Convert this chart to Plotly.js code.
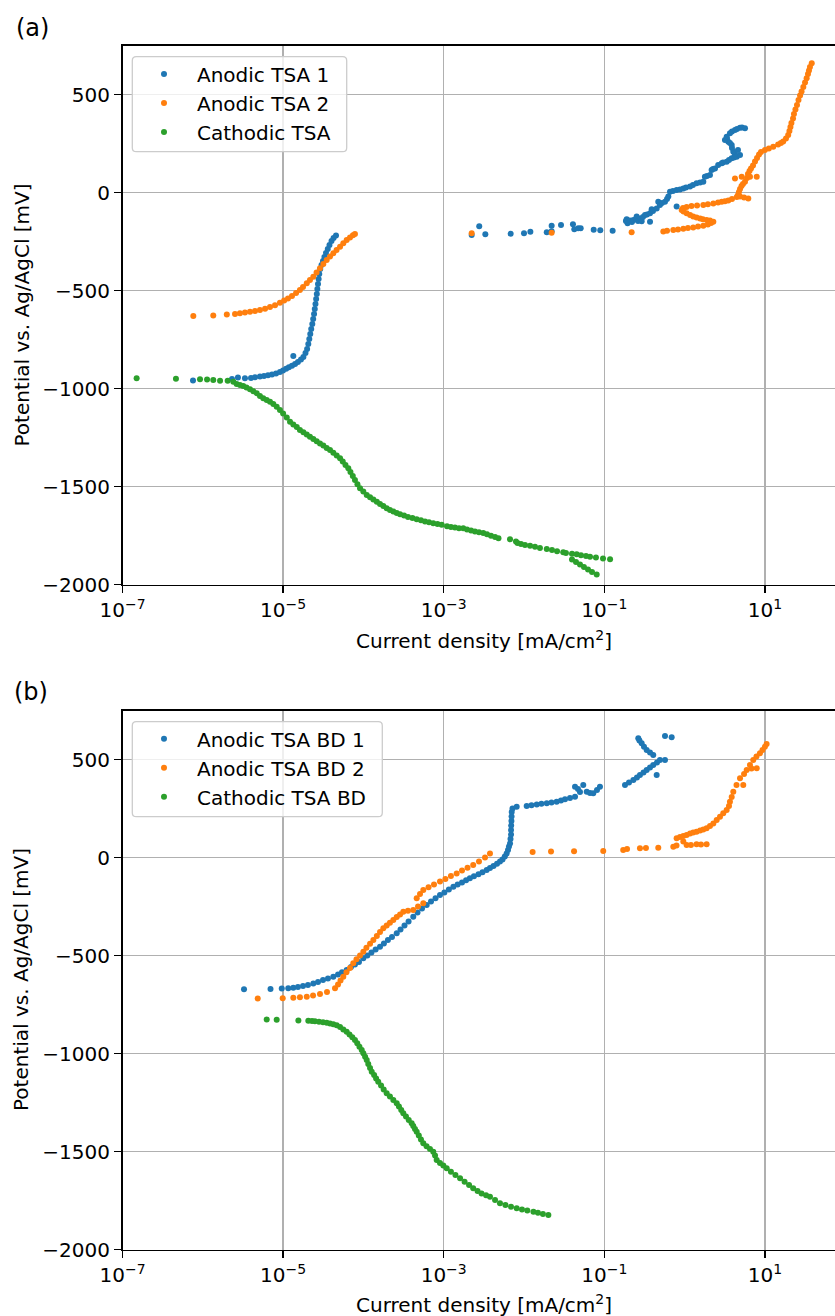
<!DOCTYPE html>
<html><head><meta charset="utf-8">
<script src="https://cdn.plot.ly/plotly-3.0.1.min.js"></script>
<style>html,body{margin:0;padding:0;background:#fff}</style>
</head><body><div id="chart" style="width:835px;height:1316px"></div>
<script>
// ---- Panel (a) ----
const tsa1Current = [7.55e-7, 2.31e-6, 2.74e-6, 3.35e-6, 3.98e-6, 4.47e-6, 5.15e-6, 5.78e-6, 6.49e-6, 7.28e-6, 8.17e-6, 9.14e-6, 9.98e-6, 1.09e-5, 1.18e-5, 1.29e-5, 1.41e-5, 1.53e-5, 1.67e-5, 1.79e-5, 1.90e-5, 1.99e-5, 2.06e-5, 2.12e-5, 2.18e-5, 2.24e-5, 2.31e-5, 2.37e-5, 2.43e-5, 2.48e-5, 2.53e-5, 2.58e-5, 2.63e-5, 2.67e-5, 2.72e-5, 2.77e-5, 2.82e-5, 2.90e-5, 3.01e-5, 3.14e-5, 3.27e-5, 3.42e-5, 3.60e-5, 3.78e-5, 4.01e-5, 4.25e-5, 4.56e-5, 1.34e-5,
  2.23e-3, 2.77e-3, 3.30e-3, 6.82e-3, 1.00e-2, 1.20e-2, 1.92e-2, 2.21e-2, 2.21e-2, 2.89e-2, 4.07e-2, 4.23e-2, 4.74e-2, 5.08e-2, 7.38e-2, 8.91e-2, 1.27e-1, 1.90e-1, 1.95e-1, 1.86e-1, 2.09e-1, 2.21e-1, 2.30e-1, 2.48e-1, 2.53e-1, 2.63e-1, 2.78e-1, 2.92e-1, 3.03e-1, 3.21e-1, 3.40e-1, 3.71e-1, 3.71e-1, 3.89e-1, 4.04e-1, 4.49e-1, 4.70e-1, 4.93e-1, 5.22e-1, 5.70e-1, 6.04e-1, 6.27e-1, 6.58e-1, 7.16e-1, 7.96e-1, 7.96e-1, 8.77e-1, 9.64e-1, 1.04, 1.17, 1.27, 1.41, 1.56, 1.71, 1.79, 1.90, 2.07, 2.17, 2.26, 2.39, 2.62, 2.90, 3.01, 3.34, 3.57, 3.86, 4.12, 4.46, 4.90, 4.24, 4.04, 4.62, 3.89, 3.86, 3.67, 3.50, 3.37, 3.18, 3.34, 3.67, 3.89, 4.24, 4.49, 4.90, 5.19, 5.65];
const tsa1Potential = [-958, -950, -943, -947, -945, -942, -938, -935, -932, -928, -922, -915, -907, -898, -890, -883, -874, -864, -851, -838, -818, -797, -772, -746, -721, -695, -670, -644, -619, -593, -568, -542, -517, -491, -466, -440, -415, -389, -369, -348, -328, -308, -287, -267, -246, -231, -218, -833,
  -216, -171, -212, -209, -207, -199, -202, -168, -197, -165, -161, -187, -182, -182, -189, -192, -194, -136, -156, -144, -142, -149, -139, -134, -122, -144, -131, -146, -124, -114, -111, -105, -148, -85, -93, -80, -46, -63, -53, -46, -32, -20, 5, 9, 14, -71, 16, 22, 27, 31, 39, 48, 52, 56, 82, 85, 90, 116, 121, 124, 141, 150, 154, 158, 167, 176, 180, 184, 192, 197, 209, 218, 228, 243, 254, 260, 277, 269, 286, 303, 312, 320, 325, 332, 333, 329];

const tsa2Current = [7.62e-7, 1.35e-6, 1.99e-6, 2.52e-6, 2.90e-6, 3.35e-6, 3.87e-6, 4.47e-6, 5.15e-6, 5.96e-6, 6.87e-6, 7.93e-6, 9.14e-6, 1.03e-5, 1.15e-5, 1.29e-5, 1.45e-5, 1.62e-5, 1.77e-5, 1.97e-5, 2.16e-5, 2.38e-5, 2.61e-5, 2.88e-5, 3.17e-5, 3.49e-5, 3.84e-5, 4.22e-5, 4.63e-5, 5.12e-5, 5.62e-5, 6.19e-5, 6.81e-5, 7.41e-5, 7.85e-5,
  2.23e-3, 2.21e-2, 2.19e-1, 5.43e-1, 6.04e-1, 7.23e-1, 8.28e-1, 9.64e-1, 1.10, 1.28, 1.47, 1.71, 1.95, 2.13, 2.28, 2.07, 1.88, 1.69, 1.56, 1.41, 1.28, 1.17, 1.06, 9.68e-1, 9.20e-1, 9.55e-1, 1.06, 1.22, 1.43, 1.71, 1.95, 2.28, 2.61, 2.90, 3.18, 3.50, 3.89, 4.46, 4.90, 5.50, 6.21, 4.62, 4.75, 4.90, 5.11, 5.33, 5.65, 4.24, 5.14, 5.98, 6.52, 7.91, 6.15, 6.43, 6.71, 7.11, 7.53, 7.98, 8.45, 8.94, 10.0, 11.2, 12.7, 14.6, 15.8, 16.9, 18.3, 19.5, 20.2, 20.8, 21.4, 22.4, 23.0, 24.0, 25.1, 26.2, 27.4, 28.6, 30.1, 31.6, 33.1, 34.4, 35.4, 36.4, 38.3];
const tsa2Potential = [-629, -626, -622, -619, -615, -611, -607, -603, -598, -592, -583, -574, -561, -550, -540, -527, -512, -496, -481, -462, -445, -429, -407, -386, -364, -343, -326, -309, -292, -276, -258, -241, -229, -217, -211,
  -207, -204, -202, -198, -194, -190, -188, -184, -180, -177, -172, -168, -162, -155, -148, -142, -139, -136, -131, -127, -122, -114, -105, -96, -88, -78, -73, -68, -65, -63, -59, -55, -50, -46, -43, -40, -32, -22, -20, -24, -29, -12, 4, 19, 34, 44, 56, 73, 82, 75, 82, 82, 95, 111, 123, 139, 159, 177, 195, 208, 218, 226, 234, 246, 254, 261, 277, 294, 315, 335, 356, 379, 402, 424, 447, 473, 496, 516, 539, 562, 584, 606, 623, 641, 660];

const cathCurrent = [1.50e-7, 4.63e-7, 9.23e-7, 1.13e-6, 1.35e-6, 1.64e-6, 2.04e-6, 2.40e-6, 2.64e-6, 2.90e-6, 3.19e-6, 3.50e-6, 3.87e-6, 4.26e-6, 4.69e-6, 5.15e-6, 5.66e-6, 6.25e-6, 6.87e-6, 7.55e-6, 8.32e-6, 9.14e-6, 1.00e-5, 1.11e-5, 1.22e-5, 1.34e-5, 1.48e-5, 1.62e-5, 1.79e-5, 1.97e-5, 2.16e-5, 2.38e-5, 2.62e-5, 2.88e-5, 3.17e-5, 3.49e-5, 3.84e-5, 4.22e-5, 4.65e-5, 5.12e-5, 5.53e-5, 5.98e-5, 6.49e-5, 6.90e-5, 7.38e-5, 7.85e-5, 8.43e-5, 9.08e-5, 9.98e-5, 1.10e-4, 1.21e-4, 1.33e-4, 1.47e-4, 1.61e-4, 1.77e-4, 1.95e-4, 2.14e-4, 2.36e-4, 2.60e-4, 2.86e-4, 3.21e-4, 3.59e-4, 4.08e-4, 4.61e-4, 5.21e-4, 5.85e-4, 6.56e-4, 7.41e-4, 8.37e-4, 9.44e-4, 1.10e-3, 1.23e-3, 1.38e-3, 1.55e-3, 1.75e-3, 1.95e-3, 2.19e-3, 2.45e-3, 2.75e-3, 3.11e-3, 3.46e-3, 3.88e-3, 4.36e-3, 4.81e-3, 6.70e-3, 7.94e-3, 8.30e-3, 9.18e-3, 1.03e-2, 1.19e-2, 1.37e-2, 1.58e-2, 1.92e-2, 2.23e-2, 2.58e-2, 3.08e-2, 3.33e-2, 3.96e-2, 4.53e-2, 5.13e-2, 5.92e-2, 6.64e-2, 7.87e-2, 9.64e-2, 1.18e-1, 3.96e-2, 4.44e-2, 4.98e-2, 5.58e-2, 6.27e-2, 7.03e-2, 8.04e-2];
const cathPotential = [-947, -949, -952, -953, -956, -959, -959, -964, -976, -981, -986, -994, -1003, -1013, -1023, -1037, -1049, -1058, -1066, -1078, -1092, -1109, -1126, -1147, -1168, -1183, -1196, -1211, -1222, -1234, -1245, -1257, -1268, -1279, -1290, -1302, -1313, -1327, -1341, -1355, -1372, -1389, -1406, -1425, -1445, -1466, -1487, -1508, -1525, -1542, -1554, -1565, -1577, -1588, -1599, -1610, -1619, -1627, -1634, -1641, -1647, -1654, -1660, -1666, -1671, -1677, -1682, -1687, -1690, -1694, -1702, -1706, -1708, -1712, -1712, -1718, -1723, -1729, -1733, -1736, -1743, -1750, -1757, -1763, -1768, -1780, -1787, -1792, -1797, -1801, -1807, -1813, -1818, -1823, -1829, -1835, -1838, -1842, -1845, -1850, -1854, -1857, -1861, -1866, -1870, -1871, -1884, -1897, -1910, -1922, -1935, -1948];

// ---- Panel (b) ----
const bd1Current = [3.26e-6, 6.97e-6, 9.62e-6, 1.16e-5, 1.34e-5, 1.53e-5, 1.77e-5, 2.04e-5, 2.38e-5, 2.72e-5, 3.14e-5, 3.62e-5, 4.22e-5, 4.83e-5, 5.41e-5, 6.19e-5, 7.01e-5, 7.85e-5, 8.81e-5, 9.98e-5, 1.12e-4, 1.26e-4, 1.42e-4, 1.61e-4, 1.80e-4, 2.02e-4, 2.27e-4, 2.60e-4, 2.90e-4, 3.25e-4, 3.65e-4, 4.18e-4, 4.72e-4, 5.37e-4, 6.14e-4, 6.95e-4, 7.91e-4, 8.99e-4, 1.02e-3, 1.16e-3, 1.32e-3, 1.49e-3, 1.69e-3, 1.90e-3, 2.12e-3, 2.38e-3, 2.71e-3, 3.04e-3, 3.43e-3, 3.77e-3, 4.17e-3, 4.61e-3, 5.02e-3, 5.40e-3, 5.77e-3, 6.08e-3, 6.32e-3, 6.50e-3, 6.70e-3, 6.79e-3, 6.89e-3, 6.89e-3, 6.92e-3, 6.97e-3, 7.00e-3, 7.03e-3, 7.19e-3, 8.11e-3, 1.08e-2, 1.24e-2, 1.44e-2, 1.65e-2, 1.92e-2, 2.20e-2, 2.55e-2, 2.89e-2, 3.24e-2, 3.74e-2, 4.32e-2, 4.32e-2, 4.70e-2, 4.98e-2, 5.47e-2, 6.04e-2, 6.64e-2, 7.29e-2, 8.11e-2, 8.83e-2, 1.81e-1, 2.03e-1, 2.30e-1, 2.55e-1, 2.78e-1, 3.08e-1, 3.37e-1, 3.71e-1, 4.07e-1, 4.49e-1, 4.53e-1, 4.93e-1, 5.70e-1, 4.07e-1, 3.71e-1, 3.37e-1, 3.12e-1, 2.92e-1, 2.74e-1, 2.65e-1, 5.70e-1, 6.90e-1];
const bd1Potential = [-672, -671, -669, -667, -664, -661, -656, -650, -643, -635, -625, -617, -608, -597, -586, -574, -559, -546, -533, -514, -500, -485, -469, -455, -439, -421, -406, -387, -367, -347, -327, -302, -281, -260, -242, -224, -208, -191, -178, -163, -149, -138, -127, -116, -106, -96, -85, -75, -64, -54, -43, -32, -21, -10, 5, 21, 38, 56, 72, 94, 117, 140, 163, 186, 209, 232, 250, 259, 263, 266, 271, 274, 277, 281, 285, 291, 297, 304, 310, 361, 349, 334, 370, 336, 329, 328, 344, 361, 370, 383, 395, 408, 421, 434, 446, 459, 472, 421, 485, 497, 497, 523, 536, 548, 565, 583, 597, 608, 620, 613];

const bd2Current = [4.83e-6, 9.89e-6, 1.34e-5, 1.62e-5, 1.97e-5, 2.36e-5, 2.88e-5, 3.52e-5, 4.43e-5, 4.83e-5, 5.19e-5, 5.62e-5, 6.15e-5, 6.81e-5, 7.48e-5, 8.20e-5, 9.08e-5, 9.98e-5, 1.09e-4, 1.21e-4, 1.33e-4, 1.47e-4, 1.61e-4, 1.77e-4, 1.95e-4, 2.14e-4, 2.36e-4, 2.60e-4, 2.86e-4, 3.14e-4, 3.59e-4, 4.18e-4, 4.79e-4, 5.57e-4, 4.61e-4, 5.07e-4, 5.57e-4, 6.47e-4, 7.57e-4, 8.99e-4, 1.05e-3, 1.23e-3, 1.45e-3, 1.69e-3, 1.98e-3, 2.33e-3, 2.75e-3, 3.27e-3, 3.77e-3, 1.28e-2, 2.17e-2, 4.20e-2, 9.70e-2, 1.72e-1, 1.92e-1, 2.78e-1, 3.30e-1, 4.70e-1, 7.23e-1, 7.93e-1, 9.64e-1, 1.06, 1.20, 1.41, 1.60, 1.88, 7.96e-1, 8.77e-1, 9.64e-1, 1.06, 1.17, 1.28, 1.41, 1.56, 1.71, 1.88, 2.07, 2.28, 2.51, 2.76, 3.03, 3.34, 3.57, 3.67, 3.86, 4.04, 4.43, 4.90, 5.38, 5.50, 5.93, 6.81, 7.91, 6.52, 7.16, 7.85, 8.67, 9.33, 10.0, 10.5];
const bd2Potential = [-720, -718, -715, -713, -710, -704, -696, -686, -667, -648, -628, -608, -585, -564, -540, -519, -500, -481, -460, -440, -421, -401, -380, -361, -347, -333, -319, -304, -291, -277, -272, -268, -250, -234, -208, -186, -166, -152, -138, -123, -110, -94, -81, -66, -52, -38, -20, 0, 21, 28, 30, 32, 33, 38, 43, 47, 48, 50, 55, 61, 81, 64, 64, 67, 66, 67, 98, 105, 110, 115, 122, 128, 132, 138, 143, 149, 161, 174, 191, 208, 226, 242, 263, 285, 309, 336, 370, 404, 370, 426, 446, 454, 455, 472, 497, 515, 532, 548, 565, 579];

const cathBdCurrent = [6.25e-6, 8.32e-6, 1.55e-5, 2.06e-5, 2.29e-5, 2.49e-5, 2.80e-5, 3.14e-5, 3.49e-5, 3.84e-5, 4.22e-5, 4.65e-5, 5.12e-5, 5.62e-5, 6.19e-5, 6.71e-5, 7.28e-5, 7.85e-5, 8.39e-5, 8.93e-5, 9.53e-5, 9.98e-5, 1.05e-4, 1.10e-4, 1.15e-4, 1.21e-4, 1.27e-4, 1.36e-4, 1.44e-4, 1.53e-4, 1.66e-4, 1.79e-4, 1.95e-4, 2.14e-4, 2.36e-4, 2.60e-4, 2.77e-4, 2.96e-4, 3.14e-4, 3.39e-4, 3.67e-4, 3.99e-4, 4.18e-4, 4.39e-4, 4.61e-4, 4.90e-4, 5.21e-4, 5.57e-4, 6.12e-4, 6.75e-4, 7.41e-4, 7.80e-4, 8.18e-4, 8.99e-4, 9.89e-4, 1.09e-3, 1.23e-3, 1.40e-3, 1.60e-3, 1.82e-3, 2.07e-3, 2.33e-3, 2.64e-3, 2.96e-3, 3.37e-3, 3.77e-3, 4.36e-3, 5.02e-3, 5.87e-3, 6.89e-3, 8.11e-3, 9.44e-3, 1.10e-2, 1.31e-2, 1.49e-2, 1.72e-2, 2.01e-2];
const cathBdPotential = [-826, -828, -831, -833, -834, -836, -838, -841, -843, -847, -851, -856, -865, -877, -889, -903, -917, -931, -948, -965, -982, -999, -1016, -1033, -1054, -1074, -1093, -1110, -1128, -1144, -1163, -1184, -1203, -1220, -1237, -1254, -1271, -1288, -1305, -1322, -1339, -1356, -1370, -1385, -1399, -1418, -1439, -1458, -1473, -1487, -1501, -1520, -1543, -1559, -1572, -1586, -1603, -1620, -1637, -1654, -1671, -1688, -1702, -1714, -1723, -1731, -1747, -1764, -1773, -1782, -1790, -1796, -1801, -1807, -1813, -1819, -1824];

// ---- Labels and ticks ----
const seriesNamesA = ['Anodic TSA 1', 'Anodic TSA 2', 'Cathodic TSA'];
const seriesNamesB = ['Anodic TSA BD 1', 'Anodic TSA BD 2', 'Cathodic TSA BD'];
const xTickVals = [1e-7, 1e-5, 1e-3, 1e-1, 1e1];
const xTickText = ['10<sup>\u22127</sup>', '10<sup>\u22125</sup>', '10<sup>\u22123</sup>', '10<sup>\u22121</sup>', '10<sup>1</sup>'];
const yTickVals = [-2000, -1500, -1000, -500, 0, 500];
const xTitle = 'Current density [mA/cm<sup>2</sup>]';
const yTitle = 'Potential vs. Ag/AgCl [mV]';

const colors = ['#1f77b4', '#ff7f0e', '#2ca02c'];
const FONT = 'DejaVu Sans, Liberation Sans, sans-serif';

function tr(x, y, name, color, xa, ya, lg) {
  return {type: 'scatter', mode: 'markers', x: x, y: y, name: name, xaxis: xa, yaxis: ya, legend: lg,
    legendgroup: name, marker: {size: 6, color: color, line: {width: 0}}, hoverinfo: 'skip'};
}

const data = [
  tr(tsa1Current, tsa1Potential, seriesNamesA[0], colors[0], 'x', 'y', 'legend'),
  tr(tsa2Current, tsa2Potential, seriesNamesA[1], colors[1], 'x', 'y', 'legend'),
  tr(cathCurrent, cathPotential, seriesNamesA[2], colors[2], 'x', 'y', 'legend'),
  tr(bd1Current, bd1Potential, seriesNamesB[0], colors[0], 'x2', 'y2', 'legend2'),
  tr(bd2Current, bd2Potential, seriesNamesB[1], colors[1], 'x2', 'y2', 'legend2'),
  tr(cathBdCurrent, cathBdPotential, seriesNamesB[2], colors[2], 'x2', 'y2', 'legend2')
];

const W = 835, H = 1316;
const xLeft = 122.5;
const xRangeRight = -7 + (W - xLeft) / 80.3;

function xaxis(anchor) {
  return {type: 'log', range: [-7, xRangeRight], domain: [xLeft / W, 1], anchor: anchor,
    tickvals: xTickVals, ticktext: xTickText, ticks: 'outside', ticklen: 7, tickwidth: 1.5, tickcolor: '#000',
    showline: true, linecolor: '#000', linewidth: 1.5, mirror: true,
    showgrid: true, gridcolor: '#b0b0b0', gridwidth: 1.5, zeroline: false,
    tickfont: {family: FONT, size: 20, color: '#000'}, automargin: false};
}
function yaxis(anchor, top, bottom) {
  return {range: [-2000, 750], domain: [1 - bottom / H, 1 - top / H], anchor: anchor,
    tickvals: yTickVals, ticks: 'outside', ticklen: 7, tickwidth: 1.5, tickcolor: '#000',
    showline: true, linecolor: '#000', linewidth: 1.5, mirror: false,
    showgrid: true, gridcolor: '#b0b0b0', gridwidth: 1.5, zeroline: false,
    tickfont: {family: FONT, size: 20, color: '#000'}, automargin: false};
}
function legend(topPx) {
  return {x: 131 / W, y: 1 - topPx / H, xanchor: 'left', yanchor: 'top',
    bgcolor: 'rgba(0,0,0,0)', borderwidth: 0,
    font: {family: FONT, size: 20, color: '#000'}, itemwidth: 56, tracegroupgap: 0};
}
// rounded legend frame (matplotlib style), in paper coordinates from pixel box
function frame(x0, y0, x1, y1) {
  const r = 4;
  const X = v => (v / W).toFixed(5), Y = v => (1 - v / H).toFixed(5);
  const p = 'M' + X(x0 + r) + ',' + Y(y0) + ' L' + X(x1 - r) + ',' + Y(y0) +
    ' Q' + X(x1) + ',' + Y(y0) + ' ' + X(x1) + ',' + Y(y0 + r) +
    ' L' + X(x1) + ',' + Y(y1 - r) + ' Q' + X(x1) + ',' + Y(y1) + ' ' + X(x1 - r) + ',' + Y(y1) +
    ' L' + X(x0 + r) + ',' + Y(y1) + ' Q' + X(x0) + ',' + Y(y1) + ' ' + X(x0) + ',' + Y(y1 - r) +
    ' L' + X(x0) + ',' + Y(y0 + r) + ' Q' + X(x0) + ',' + Y(y0) + ' ' + X(x0 + r) + ',' + Y(y0) + ' Z';
  return {type: 'path', path: p, xref: 'paper', yref: 'paper', layer: 'above',
    fillcolor: 'rgba(255,255,255,0.8)', line: {color: '#cccccc', width: 1.3}};
}
function ann(text, xpx, ypx, size, angle) {
  return {text: text, x: xpx / W, y: 1 - ypx / H, xref: 'paper', yref: 'paper', showarrow: false,
    xanchor: 'center', yanchor: 'middle', textangle: angle || 0, font: {family: FONT, size: size, color: '#000'}};
}

const layout = {
  width: W, height: H, margin: {l: 0, r: 0, t: 0, b: 0}, paper_bgcolor: '#fff', plot_bgcolor: '#fff',
  showlegend: true, hovermode: false,
  xaxis: xaxis('y'), yaxis: yaxis('x', 45.7, 584.7),
  xaxis2: xaxis('y2'), yaxis2: yaxis('x2', 710.5, 1249.5),
  legend: legend(54.5), legend2: legend(719.3),
  shapes: [frame(132.3, 56.7, 346.7, 151.7), frame(132.3, 721.7, 382.3, 816.7)],
  annotations: [
    ann('(a)', 32.5, 27.5, 24), ann('(b)', 31.5, 692.5, 24),
    ann(xTitle, 484, 640, 20), ann(xTitle, 484, 1304, 20),
    ann(yTitle, 21, 315.5, 20, -90), ann(yTitle, 21, 980, 20, -90)
  ]
};

Plotly.newPlot('chart', data, layout, {displayModeBar: false, staticPlot: true});
</script></body></html>
